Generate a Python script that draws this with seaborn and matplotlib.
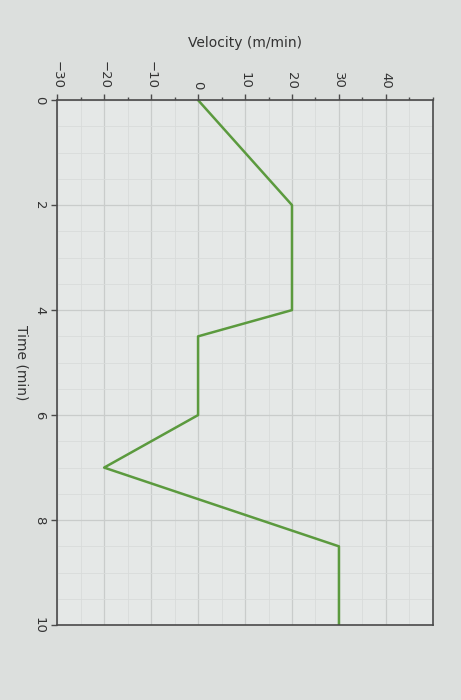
import numpy as np
import pandas as pd
import seaborn as sns
import matplotlib.pyplot as plt
from matplotlib.ticker import MultipleLocator

# piecewise velocity profile
time_min = [0, 2, 4, 4.5, 6, 7, 8.5, 10]
velocity = [0, 20, 20, 0, 0, -20, 30, 30]
vel_ticks = [-30, -20, -10, 0, 10, 20, 30, 40]
time_ticks = [0, 2, 4, 6, 8, 10]

df = pd.DataFrame({'t': time_min, 'v': velocity})

sns.set_style('white')
plt.rcParams['font.family'] = ['DejaVu Sans']

fig = plt.figure(figsize=(4.61, 7.00), dpi=100, facecolor='#dcdfdd')
ax = fig.add_axes([0.124, 0.107, 0.815, 0.750])
ax.set_facecolor('#e5e8e7')

# photo of the chart is turned 90 deg clockwise: velocity runs across, time runs down
sns.lineplot(data=df, x='v', y='t', sort=False, estimator=None,
             color='#5b9a3e', linewidth=1.8, ax=ax)

ax.set_xlim(-30, 50)
ax.set_ylim(10, 0)
ax.xaxis.tick_top()
ax.xaxis.set_label_position('top')
ax.set_xticks(vel_ticks)
ax.set_yticks(time_ticks)
ax.xaxis.set_minor_locator(MultipleLocator(5))
ax.yaxis.set_minor_locator(MultipleLocator(0.5))

ax.grid(which='major', color='#c9cccb', linewidth=0.9)
ax.grid(which='minor', color='#d8dbda', linewidth=0.6)
ax.set_axisbelow(True)

for s in ax.spines.values():
    s.set_color('#4a4a4a')
    s.set_linewidth(1.2)

ax.tick_params(axis='both', which='major', length=4, width=1, color='#4a4a4a',
               labelsize=9.5, labelcolor='#333333')
ax.tick_params(axis='both', which='minor', length=2.5, width=1, color='#4a4a4a')
ax.tick_params(axis='x', top=True, bottom=False, labelrotation=-90, pad=4)
ax.tick_params(axis='y', left=True, right=False, labelrotation=-90, pad=4)
for lab in ax.get_yticklabels():
    lab.set_verticalalignment('center')

ax.set_xlabel('Velocity (m/min)', fontsize=10, color='#333333', labelpad=10)
ax.set_ylabel('Time (min)', fontsize=10, color='#333333', rotation=-90,
              labelpad=8, va='center')

fig.savefig('out.png', dpi=100, facecolor=fig.get_facecolor())
